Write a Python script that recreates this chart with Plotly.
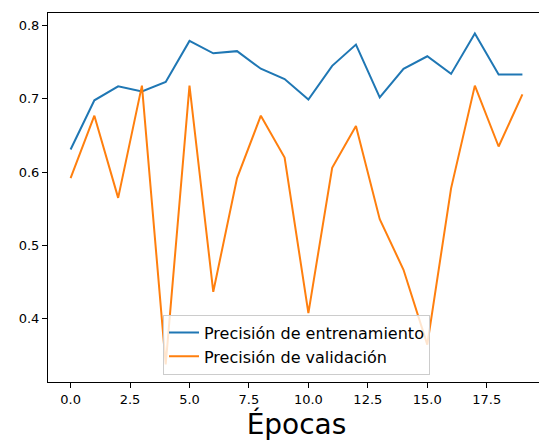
import plotly.graph_objects as go

epochs = list(range(20))
train_acc = [0.631, 0.698, 0.717, 0.710, 0.723, 0.779, 0.762, 0.765, 0.741, 0.727,
             0.699, 0.745, 0.774, 0.702, 0.741, 0.758, 0.734, 0.789, 0.733, 0.733]
val_acc = [0.592, 0.677, 0.565, 0.718, 0.338, 0.718, 0.437, 0.592, 0.677, 0.620,
           0.408, 0.606, 0.663, 0.536, 0.467, 0.365, 0.578, 0.718, 0.635, 0.706]

fig = go.Figure()
fig.add_trace(go.Scatter(x=epochs, y=train_acc, mode="lines", name="Precisión de entrenamiento",
                         line=dict(color="#1f77b4", width=2)))
fig.add_trace(go.Scatter(x=epochs, y=val_acc, mode="lines", name="Precisión de validación",
                         line=dict(color="#ff7f0e", width=2)))

axis_style = dict(showgrid=False, zeroline=False, showline=True, linecolor="black", mirror=True,
                  ticks="outside", tickcolor="black", tickfont=dict(size=13, color="black"))
fig.update_xaxes(range=[-0.95, 19.95], tickvals=[0, 2.5, 5, 7.5, 10, 12.5, 15, 17.5],
                 ticktext=["0.0", "2.5", "5.0", "7.5", "10.0", "12.5", "15.0", "17.5"],
                 title=dict(text="Épocas", font=dict(size=28, color="black"), standoff=2), **axis_style)
fig.update_yaxes(range=[0.314, 0.817], tickvals=[0.4, 0.5, 0.6, 0.7, 0.8],
                 tickformat=".1f", **axis_style)

fig.update_layout(
    width=547, height=446, plot_bgcolor="white", paper_bgcolor="white",
    font=dict(family="DejaVu Sans", color="black"),
    margin=dict(l=40, r=10, t=5, b=72),
    legend=dict(x=0.5, y=0.02, xanchor="center", yanchor="bottom", font=dict(size=16),
                bgcolor="rgba(255,255,255,0.8)", bordercolor="#cccccc", borderwidth=1),
)
fig.write_html("out.html")
